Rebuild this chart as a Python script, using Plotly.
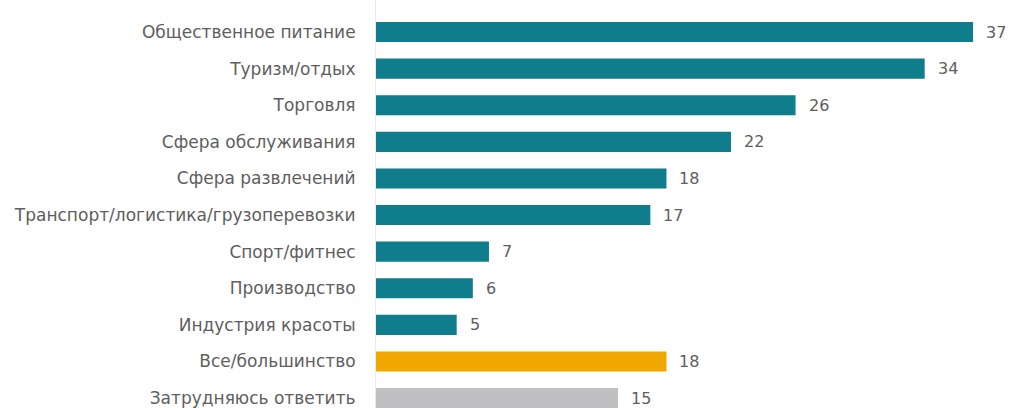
import plotly.graph_objects as go

categories = [
    "Общественное питание",
    "Туризм/отдых",
    "Торговля",
    "Сфера обслуживания",
    "Сфера развлечений",
    "Транспорт/логистика/грузоперевозки",
    "Спорт/фитнес",
    "Производство",
    "Индустрия красоты",
    "Все/большинство",
    "Затрудняюсь ответить",
]
values = [37, 34, 26, 22, 18, 17, 7, 6, 5, 18, 15]
colors = ["#0F7D8C"] * 9 + ["#F0A800", "#C0C0C2"]

FONT = "DejaVu Sans, Liberation Sans, Arial, sans-serif"
TEXT = "#5E5E5E"

fig = go.Figure()
fig.add_trace(go.Bar(
    y=categories, x=values, orientation="h",
    marker=dict(color=colors, line=dict(width=0)),
    width=0.55, hoverinfo="skip",
))

for c, v in zip(categories, values):
    fig.add_annotation(x=v, y=c, text=str(v), showarrow=False,
                       xanchor="left", xshift=11,
                       font=dict(size=16, color=TEXT, family=FONT))

fig.update_layout(
    width=1011, height=408,
    margin=dict(l=376, r=0, t=0, b=0),
    paper_bgcolor="white", plot_bgcolor="white",
    showlegend=False,
    font=dict(family=FONT, size=17, color=TEXT),
    xaxis=dict(range=[0, 39.35], visible=False, fixedrange=True),
    yaxis=dict(range=[10.27, -0.874], showgrid=False, zeroline=False,
               showline=True, linecolor="#EAEAEA", linewidth=1,
               ticks="", ticklabelstandoff=16, fixedrange=True,
               tickfont=dict(size=17, color=TEXT, family=FONT)),
)

fig.write_html(
    "out.html",
    config={"displayModeBar": False, "staticPlot": True},
    post_script="document.body.style.margin='0';document.body.style.overflow='hidden';",
)
